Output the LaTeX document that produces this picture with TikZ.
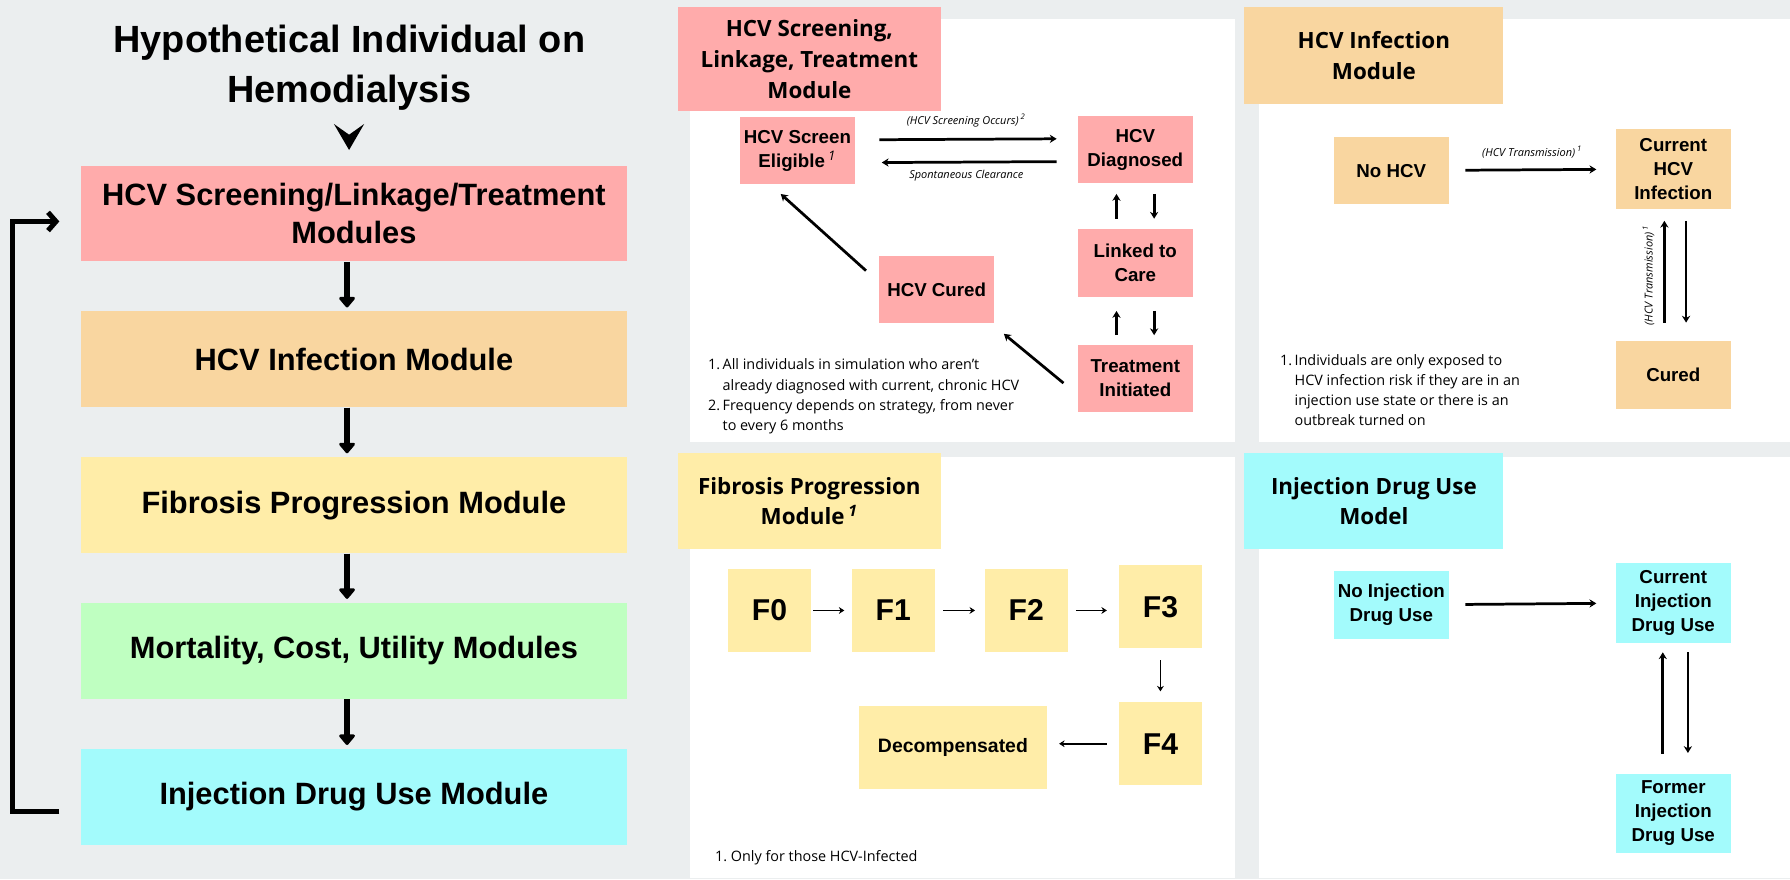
\documentclass[tikz,border=0pt]{standalone}
\usepackage{fontspec}
\setmainfont{Open Sans}
\newfontfamily\arialfont{Liberation Sans}
\usetikzlibrary{arrows.meta}
\definecolor{bggray}{HTML}{EBEEEF}
\definecolor{pinkbox}{HTML}{FFABAB}
\definecolor{orangebox}{HTML}{F9D6A0}
\definecolor{yellowbox}{HTML}{FFEDA8}
\definecolor{greenbox}{HTML}{BFFFC1}
\definecolor{cyanbox}{HTML}{A3FBFC}

\begin{document}
\begin{tikzpicture}[x=0.5pt,y=-0.5pt]
\tikzset{title/.style = {inner sep=0pt, align=center, font=\arialfont\bfseries\fontsize{16.6}{22}\selectfont}}
\tikzset{module/.style = {rectangle, inner sep=0pt, minimum width=239pt, minimum height=42pt, align=center, font=\arialfont\bfseries\fontsize{13.5}{17}\selectfont}}
\tikzset{flow/.style = {-{Triangle[length=5pt,width=8pt,round]}, line width=2.4pt, shorten >=1.5pt}}
\tikzset{loopedge/.style = {-{Straight Barb[length=3.5pt,width=8pt]}, line width=2.2pt}}
\tikzset{header/.style = {rectangle, inner sep=0pt, minimum width=115pt, align=center, font=\bfseries\fontsize{9.8}{13.5}\selectfont}}
\tikzset{state/.style = {rectangle, inner sep=0pt, minimum width=50.5pt, minimum height=29.5pt, align=center, font=\arialfont\bfseries\fontsize{8.2}{10.5}\selectfont}}
\tikzset{stage/.style = {state, minimum width=36.5pt, minimum height=36.5pt, font=\arialfont\bfseries\fontsize{13.2}{15}\selectfont}}
\tikzset{edge/.style = {-{Stealth[length=3pt,width=3.6pt]}, line width=1.2pt}}
\tikzset{thinedge/.style = {-{Stealth[length=2.4pt,width=3pt]}, line width=0.7pt}}
\tikzset{edgelabel/.style = {font=\itshape\fontsize{4.8}{5.5}\selectfont, inner sep=1pt}}
\tikzset{note/.style = {anchor=base west, inner sep=0pt, font=\fontsize{6.3}{8.85}\selectfont}}
\tikzset{panel/.style = {fill=white}}
\useasboundingbox (0,0) rectangle (1568,770);
\fill[bggray] (0,0) rectangle (1568,770);
\fill[panel] (604,17) rectangle (1081.5,387);
\fill[panel] (1103,17) rectangle (1568,387);
\fill[panel] (604,400.5) rectangle (1081.5,769.5);
\fill[panel] (1103,400.5) rectangle (1568,769.5);

% left column
\node[title] (title) at (306,59) {Hypothetical Individual on\\Hemodialysis};
\fill (292.5,108.6) -- (305.8,131.4) -- (319,108.6) -- (305.8,118) -- cycle;
\node[module, fill=pinkbox] (mscreen) at (310,187) {HCV Screening/Linkage/Treatment\\Modules};
\node[module, fill=orangebox] (minfect) at (310,314.75) {HCV Infection Module};
\node[module, fill=yellowbox] (mfibro) at (310,442.5) {Fibrosis Progression Module};
\node[module, fill=greenbox] (mmort) at (310,570) {Mortality, Cost, Utility Modules};
\node[module, fill=cyanbox] (midu) at (310,698) {Injection Drug Use Module};
\draw[flow] ([xshift=-3pt]mscreen.south) -- ([xshift=-3pt]minfect.north);
\draw[flow] ([xshift=-3pt]minfect.south) -- ([xshift=-3pt]mfibro.north);
\draw[flow] ([xshift=-3pt]mfibro.south) -- ([xshift=-3pt]mmort.north);
\draw[flow] ([xshift=-3pt]mmort.south) -- ([xshift=-3pt]midu.north);
\coordinate (loopfrom) at (52,711);
\coordinate (loopto) at (52,194);
\draw[loopedge] (loopfrom) -- ++(-41,0) |- (loopto);

% screening, linkage, treatment
\node[header, fill=pinkbox, minimum height=45.5pt] (hscreen) at (709,51.5) {HCV Screening,\\Linkage, Treatment\\Module};
\node[state, fill=pinkbox] (elig) at (698.5,132) {HCV Screen\\Eligible\,\textsuperscript{\normalfont\itshape 1}};
\node[state, fill=pinkbox] (diag) at (994.5,131) {HCV\\Diagnosed};
\node[state, fill=pinkbox] (link) at (994.5,230.5) {Linked to\\Care};
\node[state, fill=pinkbox] (treat) at (994.5,331.5) {Treatment\\Initiated};
\node[state, fill=pinkbox] (cured) at (820.5,253.5) {HCV Cured};
\draw[edge, shorten <=10.5pt, shorten >=9pt] ([yshift=4.75pt]elig.east) -- node[edgelabel, above=3.8pt] {(HCV Screening Occurs)\,\textsuperscript{2}} ([yshift=4.75pt]diag.west);
\draw[edge, shorten <=9pt, shorten >=11.5pt] ([yshift=-5.25pt]diag.west) -- node[edgelabel, below=2.1pt] {Spontaneous Clearance} ([yshift=-5.25pt]elig.east);
\draw[edge, shorten <=4.5pt, shorten >=4.5pt] ([xshift=-8.25pt]link.north) -- ([xshift=-8.25pt]diag.south);
\draw[edge, shorten <=4.5pt, shorten >=4.5pt] ([xshift=8.25pt]diag.south) -- ([xshift=8.25pt]link.north);
\draw[edge, shorten <=4pt, shorten >=6pt] ([xshift=-8.25pt]treat.north) -- ([xshift=-8.25pt]link.south);
\draw[edge, shorten <=6pt, shorten >=4pt] ([xshift=8.25pt]link.south) -- ([xshift=8.25pt]treat.north);
\draw[edge, shorten <=7.8pt, shorten >=7.1pt] ([yshift=-7pt]treat.west) -- ([xshift=-1.5pt]cured.south east);
\draw[edge, shorten <=7.4pt, shorten >=6pt] ([yshift=3.25pt]cured.west) -- ([xshift=-11.75pt]elig.south);
\node[note] (tlnote) at (620,324) {\begin{tabular}[t]{@{}l@{\,}l@{}}1.&All individuals in simulation who aren’t\\&already diagnosed with current, chronic HCV\\2.&Frequency depends on strategy, from never\\&to every 6 months\end{tabular}};

% infection
\node[header, fill=orangebox, minimum width=113.5pt, minimum height=42.5pt] (hinfect) at (1203.5,48.5) {HCV Infection\\Module};
\node[state, fill=orangebox] (nohcv) at (1218.75,149.5) {No HCV};
\node[state, fill=orangebox, minimum height=35pt] (curhcv) at (1465.75,148) {Current\\HCV\\Infection};
\node[state, fill=orangebox] (curedhcv) at (1465.75,328.5) {Cured};
\draw[edge, shorten <=7pt, shorten >=8.25pt] (nohcv) -- node[edgelabel, above=3.5pt] {(HCV Transmission)\,\textsuperscript{1}} (curhcv);
\draw[edge, shorten <=8pt, shorten >=5pt] ([xshift=-3.9pt]curedhcv.north) -- node[edgelabel, sloped, above=2.8pt] {(HCV Transmission)\,\textsuperscript{1}} ([xshift=-3.9pt]curhcv.south);
\draw[edge, shorten <=5pt, shorten >=8pt] ([xshift=5.6pt]curhcv.south) -- ([xshift=5.6pt]curedhcv.north);
\node[note] (trnote) at (1121,320) {\begin{tabular}[t]{@{}l@{\,}l@{}}1.&Individuals are only exposed to\\&HCV infection risk if they are in an\\&injection use state or there is an\\&outbreak turned on\end{tabular}};

% fibrosis
\node[header, fill=yellowbox, minimum height=42pt] (hfibro) at (709,439) {Fibrosis Progression\\Module\,\textsuperscript{\itshape 1}};
\node[stage, fill=yellowbox] (f0) at (674,534.75) {F0};
\node[stage, fill=yellowbox] (f1) at (782.5,534.75) {F1};
\node[stage, fill=yellowbox] (f2) at (899,534.75) {F2};
\node[stage, fill=yellowbox] (f3) at (1016.5,531.5) {F3};
\node[stage, fill=yellowbox] (f4) at (1016.5,651.5) {F4};
\node[stage, fill=yellowbox, minimum width=82pt, font=\arialfont\bfseries\fontsize{8.5}{10}\selectfont] (decomp) at (834.75,654.75) {Decompensated};
\draw[thinedge, shorten <=0.75pt, shorten >=3pt] (f0) -- (f1);
\draw[thinedge, shorten <=3.5pt, shorten >=4pt] (f1) -- (f2);
\draw[thinedge, shorten <=3.3pt, shorten >=5pt] (f2) -- (f2 -| f3.west);
\draw[thinedge, shorten <=5pt, shorten >=4.5pt] (f3) -- (f4);
\draw[thinedge, shorten <=5pt, shorten >=5.3pt] (f4) -- (f4 -| decomp.east);
\node[note] (blnote) at (626,755) {1.\ Only for those HCV-Infected};

% injection drug use
\node[header, fill=cyanbox, minimum width=113.5pt, minimum height=42pt] (hidu) at (1203.5,439) {Injection Drug Use\\Model};
\node[state, fill=cyanbox] (noidu) at (1218.75,530) {No Injection\\Drug Use};
\node[state, fill=cyanbox, minimum height=35pt] (curidu) at (1465.75,528) {Current\\Injection\\Drug Use};
\node[state, fill=cyanbox, minimum height=34.5pt] (formidu) at (1465.75,712.5) {Former\\Injection\\Drug Use};
\draw[edge, shorten <=7pt, shorten >=8.25pt] (noidu) -- (curidu);
\draw[edge, shorten <=8.75pt, shorten >=4pt] ([xshift=-4.6pt]formidu.north) -- ([xshift=-4.6pt]curidu.south);
\draw[edge, shorten <=4pt, shorten >=9pt] ([xshift=6.4pt]curidu.south) -- ([xshift=6.4pt]formidu.north);
\end{tikzpicture}
\end{document}
